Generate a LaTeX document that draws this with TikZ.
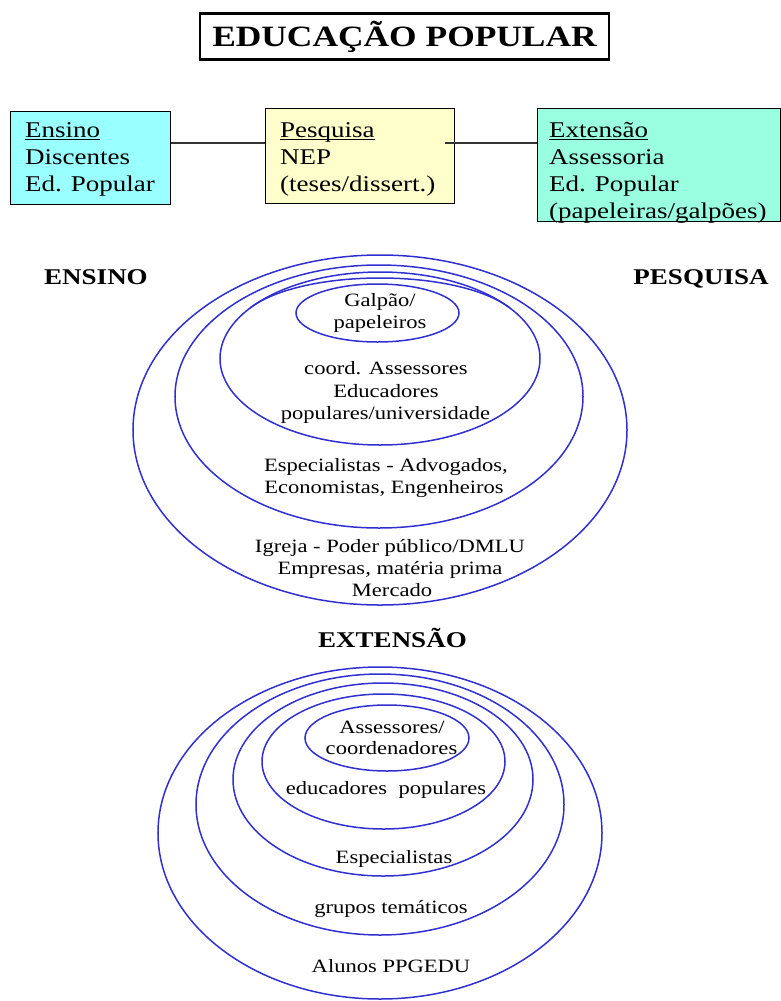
\documentclass[tikz,border=0pt]{standalone}
\usepackage{fontspec}
\setmainfont{Liberation Serif}[FakeStretch=1.2]
\definecolor{ringblue}{RGB}{48,48,208}
\definecolor{ensinofill}{RGB}{153,255,255}
\definecolor{pesqfill}{RGB}{255,255,204}
\definecolor{extfill}{RGB}{153,255,224}
\newcommand\headword[1]{\underline{\smash{#1}}}
\tikzset{
  box/.style={draw=black, line width=1.4bp, inner sep=0pt, anchor=north west},
  ring/.style={draw=ringblue, line width=1.5bp},
  boxline/.style={anchor=mid west, inner sep=0pt, font=\fontsize{22.5bp}{27bp}\selectfont},
  ringtxt/.style={anchor=mid, inner sep=0pt, font=\fontsize{18.8bp}{22.6bp}\selectfont},
  head/.style={anchor=mid, inner sep=0pt, font=\bfseries\fontsize{22.5bp}{27bp}\selectfont},
  link/.style={draw=black!80, line width=1.3bp},
}
\begin{document}
\begin{tikzpicture}[x=1bp, y=-1bp]
\useasboundingbox (0,0) rectangle (781,1001);

% title
\node[draw=black, line width=2.2bp, minimum width=409bp, minimum height=46bp,
      inner sep=0pt, text height=20bp, text depth=0bp,
      font=\bfseries\fontsize{29.5bp}{34bp}\selectfont] (title) at (404.5,36.5) {EDUCAÇÃO POPULAR};

% the three boxes
\node[box, fill=ensinofill, minimum width=160bp, minimum height=93bp] (ens) at (10,111) {};
\node[box, fill=pesqfill, minimum width=189bp, minimum height=95bp] (pes) at (265,108) {};
\node[box, fill=extfill, minimum width=243bp, minimum height=113bp] (ext) at (537,108) {};

\node[boxline] (ens1) at (25,135.5) {\headword{Ensino}};
\node[boxline] (ens2) at (25,162.5) {Discentes};
\node[boxline] (ens3) at (25,189.5) {Ed. Popular};

\node[boxline] (pes1) at (280,135.5) {\headword{Pesquisa}};
\node[boxline] (pes2) at (280,162.5) {NEP};
\node[boxline] (pes3) at (280,189.5) {(teses/dissert.)};

\node[boxline] (ext1) at (549,135.5) {\headword{Extensão}};
\node[boxline] (ext2) at (549,162.5) {Assessoria};
\node[boxline] (ext3) at (549,189.5) {Ed. Popular};
\node[boxline] (ext4) at (549,216.5) {(papeleiras/galpões)};

% links between the boxes
\coordinate (lvl) at (0,143);
\draw[link] (ens.east |- lvl) -- (pes.west |- lvl);
\draw[link, shorten <=-10bp] (pes.east |- lvl) -- (ext.west |- lvl);

% side headings
\node[head] (hens) at (96,282.5) {ENSINO};
\node[head] (hpes) at (701,282.5) {PESQUISA};
\node[head] (hext) at (392.5,645) {EXTENSÃO};

% upper rings
\draw[ring] (380,430) ellipse [x radius=247bp, y radius=175bp];
\draw[ring] (379,396.5) ellipse [x radius=204bp, y radius=131.5bp];
\draw[ring] (380,358.5) ellipse [x radius=160bp, y radius=86.5bp];
\coordinate (capL) at (250,308);
\coordinate (capR) at (510,308);
\draw[ring] (capL) .. controls (303,268) and (457,268) .. (capR);
\draw[ring] (377.5,313) ellipse [x radius=81.5bp, y radius=29bp];

\node[ringtxt] (u1a) at (380,304.5) {Galpão/};
\node[ringtxt] (u1b) at (380,326.5) {papeleiros};
\node[ringtxt] (u2a) at (386,372.5) {coord. Assessores};
\node[ringtxt] (u2b) at (386,395.5) {Educadores};
\node[ringtxt] (u2c) at (385.5,417.5) {populares/universidade};
\node[ringtxt] (u3a) at (386,469.5) {Especialistas - Advogados,};
\node[ringtxt] (u3b) at (384,491.5) {Economistas, Engenheiros};
\node[ringtxt] (u4a) at (390,550.5) {Igreja - Poder público/DMLU};
\node[ringtxt] (u4b) at (390,572.5) {Empresas, matéria prima};
\node[ringtxt] (u4c) at (392,594.5) {Mercado};

% lower rings
\draw[ring] (380,833) ellipse [x radius=222bp, y radius=166bp];
\draw[ring] (380,804.5) ellipse [x radius=184bp, y radius=130.5bp];
\draw[ring] (383,779.5) ellipse [x radius=150bp, y radius=96.5bp];
\draw[ring] (383.5,761.5) ellipse [x radius=121.5bp, y radius=67.5bp];
\draw[ring] (387,738) ellipse [x radius=82bp, y radius=33bp];

\node[ringtxt] (l1a) at (392,731.5) {Assessores/};
\node[ringtxt] (l1b) at (391.5,752.5) {coordenadores};
\node[ringtxt] (l2) at (386,792.5) {educadores\ \ populares};
\node[ringtxt] (l3) at (394,861.5) {Especialistas};
\node[ringtxt] (l4) at (391,911.5) {grupos temáticos};
\node[ringtxt] (l5) at (391,970.5) {Alunos PPGEDU};
\end{tikzpicture}
\end{document}
